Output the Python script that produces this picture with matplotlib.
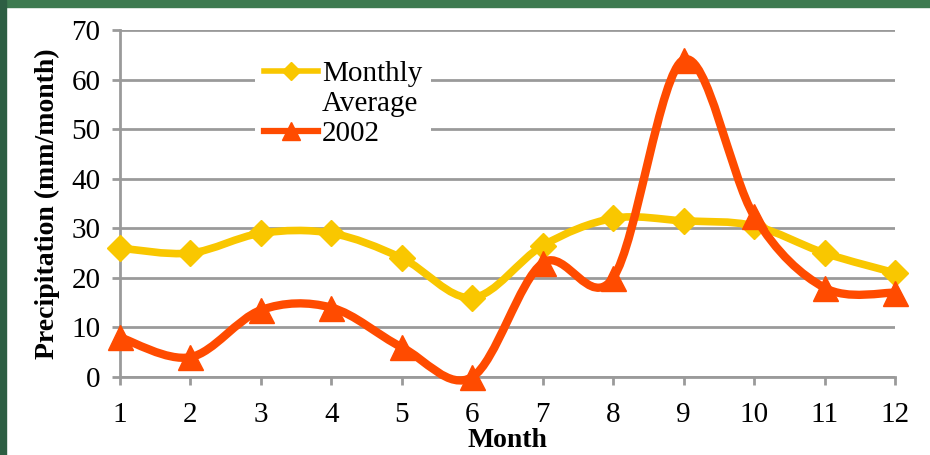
import numpy as np
import matplotlib
matplotlib.use("Agg")
import matplotlib.pyplot as plt
from matplotlib.path import Path
from matplotlib.patches import PathPatch, Rectangle
from matplotlib.lines import Line2D

months = [1, 2, 3, 4, 5, 6, 7, 8, 9, 10, 11, 12]
monthly_avg = [26, 25, 29, 29, 24, 16, 26.5, 32, 31.5, 30.5, 25, 21]
y2002 = [8, 4, 13.5, 14, 6, 0, 23, 20, 64, 32.5, 18, 17]
yticks = [0, 10, 20, 30, 40, 50, 60, 70]

YELLOW = "#f9c700"
ORANGE = "#ff4b00"
GRID = "#9a9a9a"

plt.rcParams["font.family"] = ["Liberation Serif", "DejaVu Serif"]


def smooth_path(x, y):
    # excel-like smoothed line: cubic bezier, catmull-rom tangents
    x = np.asarray(x, float)
    y = np.asarray(y, float)
    n = len(x)
    verts = [(x[0], y[0])]
    codes = [Path.MOVETO]
    for i in range(n - 1):
        i0, i3 = max(i - 1, 0), min(i + 2, n - 1)
        c1 = (x[i] + (x[i + 1] - x[i0]) / 6, y[i] + (y[i + 1] - y[i0]) / 6)
        c2 = (x[i + 1] - (x[i3] - x[i]) / 6, y[i + 1] - (y[i3] - y[i]) / 6)
        verts += [c1, c2, (x[i + 1], y[i + 1])]
        codes += [Path.CURVE4] * 3
    return Path(verts, codes)


fig = plt.figure(figsize=(9.3, 4.55), dpi=100)
fig.patches.append(Rectangle((0, 1 - 7 / 455), 1, 7 / 455, transform=fig.transFigure,
                             color="#3d7a50", zorder=-1))
fig.patches.append(Rectangle((0, 0), 6 / 930, 1, transform=fig.transFigure,
                             color="#2d5e43", zorder=-1))

ax = fig.add_axes([120 / 930, 1 - 377 / 455, 775 / 930, 347 / 455])
ax.set_xlim(1, 12)
ax.set_ylim(0, 70)

for yv in yticks:
    ax.axhline(yv, color=GRID, lw=2, zorder=1)

ax.add_patch(PathPatch(smooth_path(months, monthly_avg), fill=False, edgecolor=YELLOW,
                       lw=5.5, capstyle="round", joinstyle="round", zorder=3, clip_on=False))
ax.plot(months, monthly_avg, linestyle="none", marker="D", markersize=13,
        color=YELLOW, zorder=4, clip_on=False)
ax.add_patch(PathPatch(smooth_path(months, y2002), fill=False, edgecolor=ORANGE,
                       lw=6, capstyle="round", joinstyle="round", zorder=5, clip_on=False))
ax.plot(months, y2002, linestyle="none", marker="^", markersize=18,
        color=ORANGE, zorder=6, clip_on=False)

for s in ["top", "right"]:
    ax.spines[s].set_visible(False)
for s in ["left", "bottom"]:
    ax.spines[s].set_color(GRID)
    ax.spines[s].set_linewidth(2)

ax.set_xticks(months)
ax.set_yticks(yticks)
ax.tick_params(axis="both", colors=GRID, width=2, length=6, labelsize=21,
               labelcolor="black")
ax.tick_params(axis="y", pad=8)
ax.tick_params(axis="x", pad=12)
ax.set_ylabel("Precipitation (mm/month)", fontsize=20, fontweight="bold", labelpad=8)
ax.set_xlabel("Month", fontsize=20, fontweight="bold", labelpad=0)

handles = [
    Line2D([], [], color=YELLOW, lw=4, marker="D", markersize=9),
    Line2D([], [], linestyle="none"),
    Line2D([], [], color=ORANGE, lw=4.5, marker="^", markersize=13),
]
leg = ax.legend(handles, ["Monthly", "Average", "2002"], loc="upper left",
                bbox_to_anchor=(255 / 930, 1 - 52 / 455), bbox_transform=fig.transFigure,
                fontsize=21, frameon=True, framealpha=1, facecolor="white",
                edgecolor="none", fancybox=False, handlelength=1.85, handletextpad=0.15,
                labelspacing=0.12, borderpad=0.3, borderaxespad=0)
leg.set_zorder(2)

fig.savefig("out.png", dpi=100, facecolor="white")
